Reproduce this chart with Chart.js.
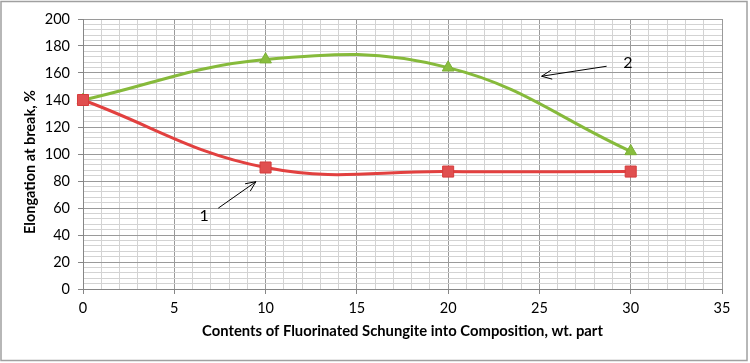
<!DOCTYPE html>
<html>
<head>
<meta charset="utf-8">
<script src="https://cdn.jsdelivr.net/npm/chart.js@4.4.1/dist/chart.umd.min.js"></script>
<style>
  html, body { margin: 0; padding: 0; background: #fff; }
  #wrap { width: 750px; height: 363px; position: relative; }
</style>
</head>
<body>
<div id="wrap"><canvas id="c" width="750" height="363"></canvas></div>
<script>
// ---- data ----
const contents = [0, 10, 20, 30];                 // wt. part
const curve1 = [140, 90, 87, 87];                 // series 1 (red, squares)
const curve2 = [140, 170, 164, 102];              // series 2 (green, triangles)
const xTickLabels = [0, 5, 10, 15, 20, 25, 30, 35];
const yTickLabels = [0, 20, 40, 60, 80, 100, 120, 140, 160, 180, 200];
const xTitle = 'Contents of Fluorinated Schungite into Composition, wt. part';
const yTitle = 'Elongation at break, %';
// callout labels and arrows (data coordinates)
const calloutText = ['1', '2'];
const calloutAt = [[6.63, 54.4], [29.85, 167.5]];
const arrowFrom = [[7.41, 59.9], [28.68, 165]];
const arrowTo = [[9.47, 79.5], [25.12, 157.6]];

const toXY = (ys) => contents.map((x, i) => ({ x, y: ys[i] }));

const FONT = 'Lato, "Open Sans", sans-serif';
const MAJOR = '#9a9a9a', MINOR = '#d3d3d3', AXIS = '#868686';

const decor = {
  id: 'decor',
  beforeDraw(chart) {
    const ctx = chart.ctx;
    ctx.save();
    ctx.fillStyle = '#fff';
    ctx.fillRect(0, 0, chart.width, chart.height);
    ctx.restore();
  },
  afterDatasetsDraw(chart) {
    const { ctx, scales: { x, y } } = chart;
    ctx.save();
    ctx.strokeStyle = '#000';
    ctx.lineWidth = 1;
    arrowFrom.forEach((f, i) => {
      const t = arrowTo[i];
      const x1 = x.getPixelForValue(f[0]), y1 = y.getPixelForValue(f[1]);
      const x2 = x.getPixelForValue(t[0]), y2 = y.getPixelForValue(t[1]);
      const a = Math.atan2(y2 - y1, x2 - x1), hl = 11, ha = 0.42;
      ctx.beginPath();
      ctx.moveTo(x1, y1); ctx.lineTo(x2, y2);
      ctx.moveTo(x2 - hl * Math.cos(a - ha), y2 - hl * Math.sin(a - ha));
      ctx.lineTo(x2, y2);
      ctx.lineTo(x2 - hl * Math.cos(a + ha), y2 - hl * Math.sin(a + ha));
      ctx.stroke();
    });
    ctx.fillStyle = '#000';
    ctx.font = '16px ' + FONT;
    ctx.textAlign = 'center';
    ctx.textBaseline = 'middle';
    calloutText.forEach((s, i) => {
      ctx.fillText(s, x.getPixelForValue(calloutAt[i][0]), y.getPixelForValue(calloutAt[i][1]));
    });
    ctx.restore();
  },
  afterDraw(chart) {
    const ctx = chart.ctx;
    ctx.save();
    // vertical axis title
    ctx.fillStyle = '#000';
    ctx.font = 'bold 14.5px ' + FONT;
    ctx.textAlign = 'center';
    ctx.textBaseline = 'middle';
    ctx.translate(30, 162);
    ctx.rotate(-Math.PI / 2);
    ctx.fillText(yTitle, 0, 0);
    ctx.restore();
    ctx.save();
    ctx.strokeStyle = '#a0a0a0';
    ctx.lineWidth = 1.5;
    ctx.strokeRect(1, 1.5, 746, 359);
    ctx.restore();
  }
};

new Chart(document.getElementById('c'), {
  type: 'line',
  data: {
    datasets: [
      {
        label: '1',
        data: toXY(curve1),
        borderColor: '#e2403f',
        backgroundColor: '#e04b4b',
        borderWidth: 3,
        tension: 0.4,
        pointStyle: 'rect',
        pointRadius: 7.8,
        pointBorderColor: '#d63c3c',
        pointBackgroundColor: '#e04f4f',
        pointBorderWidth: 1,
        clip: false
      },
      {
        label: '2',
        data: toXY(curve2),
        borderColor: '#86ba3b',
        backgroundColor: '#86ba3b',
        borderWidth: 3,
        tension: 0.4,
        pointStyle: 'triangle',
        pointRadius: 6.8,
        pointBorderColor: '#7cb036',
        pointBackgroundColor: '#89be3e',
        pointBorderWidth: 1,
        clip: false
      }
    ]
  },
  options: {
    responsive: false,
    animation: false,
    events: [],
    layout: { padding: { left: 0, right: 28, top: 19, bottom: 0 } },
    plugins: { legend: { display: false }, tooltip: { enabled: false } },
    scales: {
      x: {
        type: 'linear',
        min: 0, max: 35,
        afterFit(s) { s.height = 74; },
        ticks: {
          stepSize: 1, autoSkip: false, maxRotation: 0, padding: 6,
          color: '#000', font: { family: FONT, size: 14.5 },
          callback: (v) => xTickLabels.includes(v) ? String(v) : ''
        },
        grid: {
          color: (c) => xTickLabels.includes(c.tick.value) ? MAJOR : MINOR,
          tickColor: (c) => xTickLabels.includes(c.tick.value) ? AXIS : 'rgba(0,0,0,0)',
          tickLength: 5, lineWidth: 1
        },
        border: { color: AXIS, width: 1 },
        title: {
          display: true, text: xTitle, color: '#000',
          font: { family: FONT, size: 14.8, weight: 'bold' },
          padding: { top: 0, bottom: 23 }
        }
      },
      y: {
        min: 0, max: 200,
        afterFit(s) { s.width = 83; },
        ticks: {
          stepSize: 4, autoSkip: false, padding: 8,
          color: '#000', font: { family: FONT, size: 14.5 },
          callback: (v) => yTickLabels.includes(v) ? String(v) : ''
        },
        grid: {
          color: (c) => yTickLabels.includes(c.tick.value) ? MAJOR : MINOR,
          tickColor: (c) => yTickLabels.includes(c.tick.value) ? AXIS : 'rgba(0,0,0,0)',
          tickLength: 5, lineWidth: 1
        },
        border: { color: AXIS, width: 1 },
        title: { display: false }
      }
    }
  },
  plugins: [decor]
});
</script>
</body>
</html>
